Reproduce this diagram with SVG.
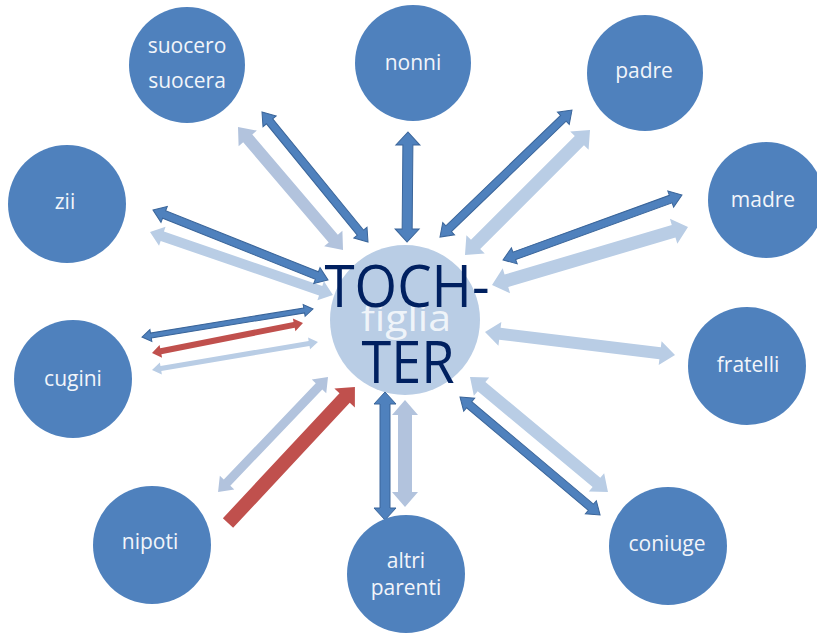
<svg xmlns="http://www.w3.org/2000/svg" width="817" height="634" viewBox="0 0 817 634">
  <style>
    .dk { fill: #4f81bd; stroke: #3a659a; stroke-width: 1; }
    .lt { fill: #b9cde5; }
    .lg { fill: #b2c3dd; }
    .rd { fill: #c0504d; }
    .node circle { fill: #4f81bd; }
    .lbl { font-family: "Open Sans", "DejaVu Sans", sans-serif; font-size: 21px; fill: #f2f5fa; text-anchor: middle; }
    .big { font-family: "Open Sans", "Liberation Sans", sans-serif; font-size: 59px; fill: #002060; text-anchor: middle; }
  </style>

  <rect width="817" height="634" fill="#ffffff"/>

  <!-- pale connectors, behind the centre disc -->
  <g id="connectors-pale">
    <polygon class="lg" transform="translate(238 127) rotate(49.5)" points="0,0 15,-12 15,-6 146.7,-6 146.7,-12 161.7,0 146.7,12 146.7,6 15,6 15,12"/>
    <polygon class="lt" transform="translate(590 130) rotate(135)" points="0,0 15,-13 15,-6.5 161.8,-6.5 161.8,-13 176.8,0 161.8,13 161.8,6.5 15,6.5 15,13"/>
    <polygon class="lt" transform="translate(688 227) rotate(163.5)" points="0,0 15,-13 15,-6.5 189.4,-6.5 189.4,-13 204.4,0 189.4,13 189.4,6.5 15,6.5 15,13"/>
    <polygon class="lt" transform="translate(485 332) rotate(6.9)" points="0,0 15,-12 15,-6 176.4,-6 176.4,-12 191.4,0 176.4,12 176.4,6 15,6 15,12"/>
    <polygon class="lt" transform="translate(470 377) rotate(39.8)" points="0,0 15,-12 15,-6 164.6,-6 164.6,-12 179.6,0 164.6,12 164.6,6 15,6 15,12"/>
    <polygon class="lg" transform="translate(405 400) rotate(90)" points="0,0 15,-13 15,-7 92,-7 92,-13 107,0 92,13 92,7 15,7 15,13"/>
    <polygon class="lg" transform="translate(328 377) rotate(133.7)" points="0,0 13,-10 13,-4.5 146.1,-4.5 146.1,-10 159.1,0 146.1,10 146.1,4.5 13,4.5 13,10"/>
    <polygon class="lt" transform="translate(152 370) rotate(-9.6)" points="0,0 9,-6 9,-2.5 159.3,-2.5 159.3,-6 168.3,0 159.3,6 159.3,2.5 9,2.5 9,6"/>
    <polygon class="lt" transform="translate(150 232) rotate(19)" points="0,0 13,-10 13,-5 180.5,-5 180.5,-10 193.5,0 180.5,10 180.5,5 13,5 13,10"/>
  </g>

  <!-- centre node -->
  <g id="figlia">
    <circle cx="405" cy="320" r="75" fill="#b9cde5"/>
    <text x="406" y="331" font-family="'Open Sans', 'Liberation Sans', sans-serif" font-size="37" fill="#ffffff" fill-opacity="0.8" text-anchor="middle" textLength="90" lengthAdjust="spacingAndGlyphs">figlia</text>
  </g>

  <!-- strong connectors -->
  <g id="connectors">
    <polygon class="dk" transform="translate(262 112) rotate(50.8)" points="0,0 12,-8.5 12,-4 155.7,-4 155.7,-8.5 167.7,0 155.7,8.5 155.7,4 12,4 12,8.5"/>
    <polygon class="dk" transform="translate(408 132) rotate(90.5)" points="0,0 13,-12 13,-5 97,-5 97,-12 110,0 97,12 97,5 13,5 13,12"/>
    <polygon class="dk" transform="translate(572 110) rotate(136.1)" points="0,0 12,-8.5 12,-4 171.2,-4 171.2,-8.5 183.2,0 171.2,8.5 171.2,4 12,4 12,8.5"/>
    <polygon class="dk" transform="translate(682 195) rotate(160.05)" points="0,0 12,-8.5 12,-4 178.4,-4 178.4,-8.5 190.4,0 178.4,8.5 178.4,4 12,4 12,8.5"/>
    <polygon class="dk" transform="translate(460 397) rotate(40.1)" points="0,0 12,-8.5 12,-4 171.1,-4 171.1,-8.5 183.1,0 171.1,8.5 171.1,4 12,4 12,8.5"/>
    <polygon class="dk" transform="translate(385 392) rotate(90)" points="0,0 12,-11 12,-5 116,-5 116,-11 128,0 116,11 116,5 12,5 12,11"/>
    <polygon class="rd" transform="translate(228 523) rotate(-47)" points="0,-7 171,-7 171,-14 186.1,0 171,14 171,7 0,7"/>
    <polygon class="dk" transform="translate(142 337) rotate(-9.3)" points="0,0 9,-6 9,-2.5 164.3,-2.5 164.3,-6 173.3,0 164.3,6 164.3,2.5 9,2.5 9,6"/>
    <polygon class="rd" transform="translate(152 353) rotate(-11.2)" points="0,0 9,-6.5 9,-3 144.9,-3 144.9,-6.5 153.9,0 144.9,6.5 144.9,3 9,3 9,6.5"/>
    <polygon class="dk" transform="translate(153 210) rotate(21.8)" points="0,0 12,-8.5 12,-4 176.5,-4 176.5,-8.5 188.5,0 176.5,8.5 176.5,4 12,4 12,8.5"/>
  </g>

  <!-- surrounding nodes -->
  <g id="suocero" class="node">
    <circle cx="187" cy="65" r="58"/>
    <text class="lbl" x="187" y="53">suocero</text>
    <text class="lbl" x="187" y="88">suocera</text>
  </g>
  <g id="nonni" class="node">
    <circle cx="413" cy="63" r="58"/>
    <text class="lbl" x="413" y="70">nonni</text>
  </g>
  <g id="padre" class="node">
    <circle cx="645" cy="73" r="58"/>
    <text class="lbl" x="644" y="78">padre</text>
  </g>
  <g id="madre" class="node">
    <circle cx="766" cy="200" r="58"/>
    <text class="lbl" x="763" y="207">madre</text>
  </g>
  <g id="fratelli" class="node">
    <circle cx="747" cy="366" r="59"/>
    <text class="lbl" x="748" y="372">fratelli</text>
  </g>
  <g id="coniuge" class="node">
    <circle cx="668" cy="546" r="59"/>
    <text class="lbl" x="667" y="551">coniuge</text>
  </g>
  <g id="altri-parenti" class="node">
    <circle cx="406" cy="574" r="59"/>
    <text class="lbl" x="406" y="568">altri</text>
    <text class="lbl" x="406" y="595">parenti</text>
  </g>
  <g id="nipoti" class="node">
    <circle cx="152" cy="545" r="59"/>
    <text class="lbl" x="150" y="549">nipoti</text>
  </g>
  <g id="cugini" class="node">
    <circle cx="73" cy="379" r="59"/>
    <text class="lbl" x="73" y="386">cugini</text>
  </g>
  <g id="zii" class="node">
    <circle cx="67" cy="204" r="59"/>
    <text class="lbl" x="65" y="209">zii</text>
  </g>

  <!-- overlaid title -->
  <g id="tochter">
    <text class="big" x="407" y="307" textLength="165" lengthAdjust="spacingAndGlyphs">TOCH-</text>
    <text class="big" x="408" y="383" textLength="93" lengthAdjust="spacingAndGlyphs">TER</text>
  </g>
</svg>
